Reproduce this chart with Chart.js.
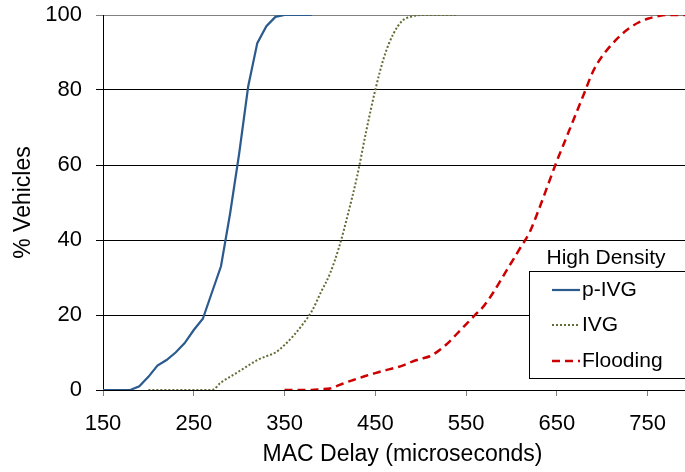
<!DOCTYPE html>
<html>
<head>
<meta charset="utf-8">
<script src="https://cdn.jsdelivr.net/npm/chart.js@4"></script>
<style>
  html, body { margin: 0; padding: 0; background: #fff; }
  #wrap { width: 685px; height: 472px; overflow: hidden; }
</style>
</head>
<body>
<div id="wrap"><canvas id="delayChart" width="702" height="472"></canvas></div>
<script>
// MAC delay (microseconds) vs cumulative % of vehicles
const pivgDelay = [150, 180, 190, 200, 210, 220, 230, 240, 250, 260, 270, 280, 290, 300, 310, 320, 330, 340, 350, 360, 370, 380];
const pivgPct   = [0, 0, 1, 3.5, 6.5, 8, 10, 12.5, 16, 19, 26, 33, 47, 63, 81, 92.5, 97, 99.5, 100, 100, 100, 100];

const ivgDelay = [200, 210, 220, 230, 240, 250, 260, 270, 280, 290, 300, 310, 320, 330, 340, 350, 360, 370, 380, 390, 400, 410, 420, 430, 440, 450, 460, 470, 480, 490, 500, 510, 520, 530, 540];
const ivgPct   = [0, 0, 0, 0, 0, 0, 0, 0, 2, 3.5, 5, 6.5, 8, 9, 10, 12, 14.5, 17.5, 21, 26, 31, 38, 47, 57, 69, 80, 89, 95, 98.5, 99.6, 100, 100, 100, 100, 100];

const floodDelay = [350, 360, 370, 380, 390, 400, 410, 420, 430, 440, 450, 460, 470, 480, 490, 500, 510, 520, 530, 540, 550, 560, 570, 580, 590, 600, 610, 620, 630, 640, 650, 660, 670, 680, 690, 700, 710, 720, 730, 740, 750, 760, 770, 780, 790, 800];
const floodPct   = [0, 0, 0, 0, 0.2, 0.4, 1.3, 2.2, 3, 3.8, 4.5, 5.2, 5.8, 6.5, 7.5, 8.3, 9, 10.5, 12.5, 15, 17.5, 20, 22.5, 26, 30, 34, 38, 42, 48, 54.5, 61, 67, 73, 79, 85, 89, 92, 94.5, 96.5, 98, 99, 99.6, 100, 100, 100, 100];

const xTicks = [150, 250, 350, 450, 550, 650, 750];
const legendTitle = 'High Density';

function pts(xs, ys) {
    return xs.map((x, i) => ({ x: x, y: ys[i] }));
}

const FONT = 'Liberation Sans, Arial, sans-serif';

// legend drawn in a box inside the plot, title sitting above it
const boxLegend = {
    id: 'boxLegend',
    afterDraw(chart) {
        const ctx = chart.ctx;
        ctx.save();
        ctx.font = '21px ' + FONT;
        ctx.fillStyle = '#000';
        ctx.textAlign = 'center';
        ctx.textBaseline = 'middle';
        ctx.fillText(legendTitle, 606, 258);

        ctx.fillStyle = '#fff';
        ctx.fillRect(529, 271, 180, 107);
        ctx.strokeStyle = '#000';
        ctx.lineWidth = 1;
        ctx.strokeRect(529.5, 271.5, 180, 107);

        const rows = [290, 325, 361];
        chart.data.datasets.forEach((ds, i) => {
            const y = rows[i];
            ctx.beginPath();
            ctx.strokeStyle = ds.borderColor;
            ctx.lineWidth = ds.borderWidth;
            ctx.setLineDash(ds.borderDash || []);
            ctx.moveTo(552, y);
            ctx.lineTo(580, y);
            ctx.stroke();
            ctx.setLineDash([]);
            ctx.fillStyle = '#000';
            ctx.textAlign = 'left';
            ctx.fillText(ds.label, 582, y);
        });
        ctx.restore();
    }
};

const ctx = document.getElementById('delayChart').getContext('2d');
const delayChart = new Chart(ctx, {
    type: 'line',
    data: {
        datasets: [
            {
                label: 'p-IVG',
                data: pts(pivgDelay, pivgPct),
                borderColor: '#2B5A8E',
                borderWidth: 2.2,
                pointRadius: 0,
                tension: 0,
                fill: false
            },
            {
                label: 'IVG',
                data: pts(ivgDelay, ivgPct),
                borderColor: '#5F6E34',
                borderWidth: 2,
                borderDash: [2, 2],
                pointRadius: 0,
                cubicInterpolationMode: 'monotone',
                fill: false
            },
            {
                label: 'Flooding',
                data: pts(floodDelay, floodPct),
                borderColor: '#CC0000',
                borderWidth: 2.5,
                borderDash: [8, 5],
                pointRadius: 0,
                cubicInterpolationMode: 'monotone',
                fill: false
            }
        ]
    },
    options: {
        responsive: false,
        animation: false,
        layout: { padding: { top: 15, right: 0, left: 0, bottom: 0 } },
        plugins: {
            legend: { display: false },
            tooltip: { enabled: false }
        },
        scales: {
            x: {
                type: 'linear',
                min: 150,
                max: 810,
                afterBuildTicks: s => { s.ticks = xTicks.map(v => ({ value: v })); },
                afterFit: s => { s.height = 82; },
                grid: {
                    drawOnChartArea: false,
                    drawTicks: true,
                    tickLength: 6,
                    color: '#808080'
                },
                border: { color: '#000', width: 1 },
                ticks: {
                    padding: 15,
                    color: '#000',
                    maxRotation: 0,
                    font: { family: FONT, size: 22 }
                },
                title: {
                    display: true,
                    text: 'MAC Delay (microseconds)',
                    color: '#000',
                    padding: { top: 0, bottom: 4 },
                    font: { family: FONT, size: 23 }
                }
            },
            y: {
                min: 0,
                max: 100,
                afterFit: s => { s.width = 103; s.paddingTop = 0; s.paddingBottom = 0; },
                ticks: {
                    stepSize: 20,
                    padding: 14,
                    color: '#000',
                    font: { family: FONT, size: 22 }
                },
                grid: {
                    color: c => (c.tick && c.tick.value === 100) ? '#808080' : '#000',
                    lineWidth: 1,
                    tickLength: 7
                },
                border: { color: '#000', width: 1 },
                title: {
                    display: true,
                    text: '% Vehicles',
                    color: '#000',
                    padding: { top: 10, bottom: 0 },
                    font: { family: FONT, size: 23 }
                }
            }
        }
    },
    plugins: [boxLegend]
});
</script>
</body>
</html>
